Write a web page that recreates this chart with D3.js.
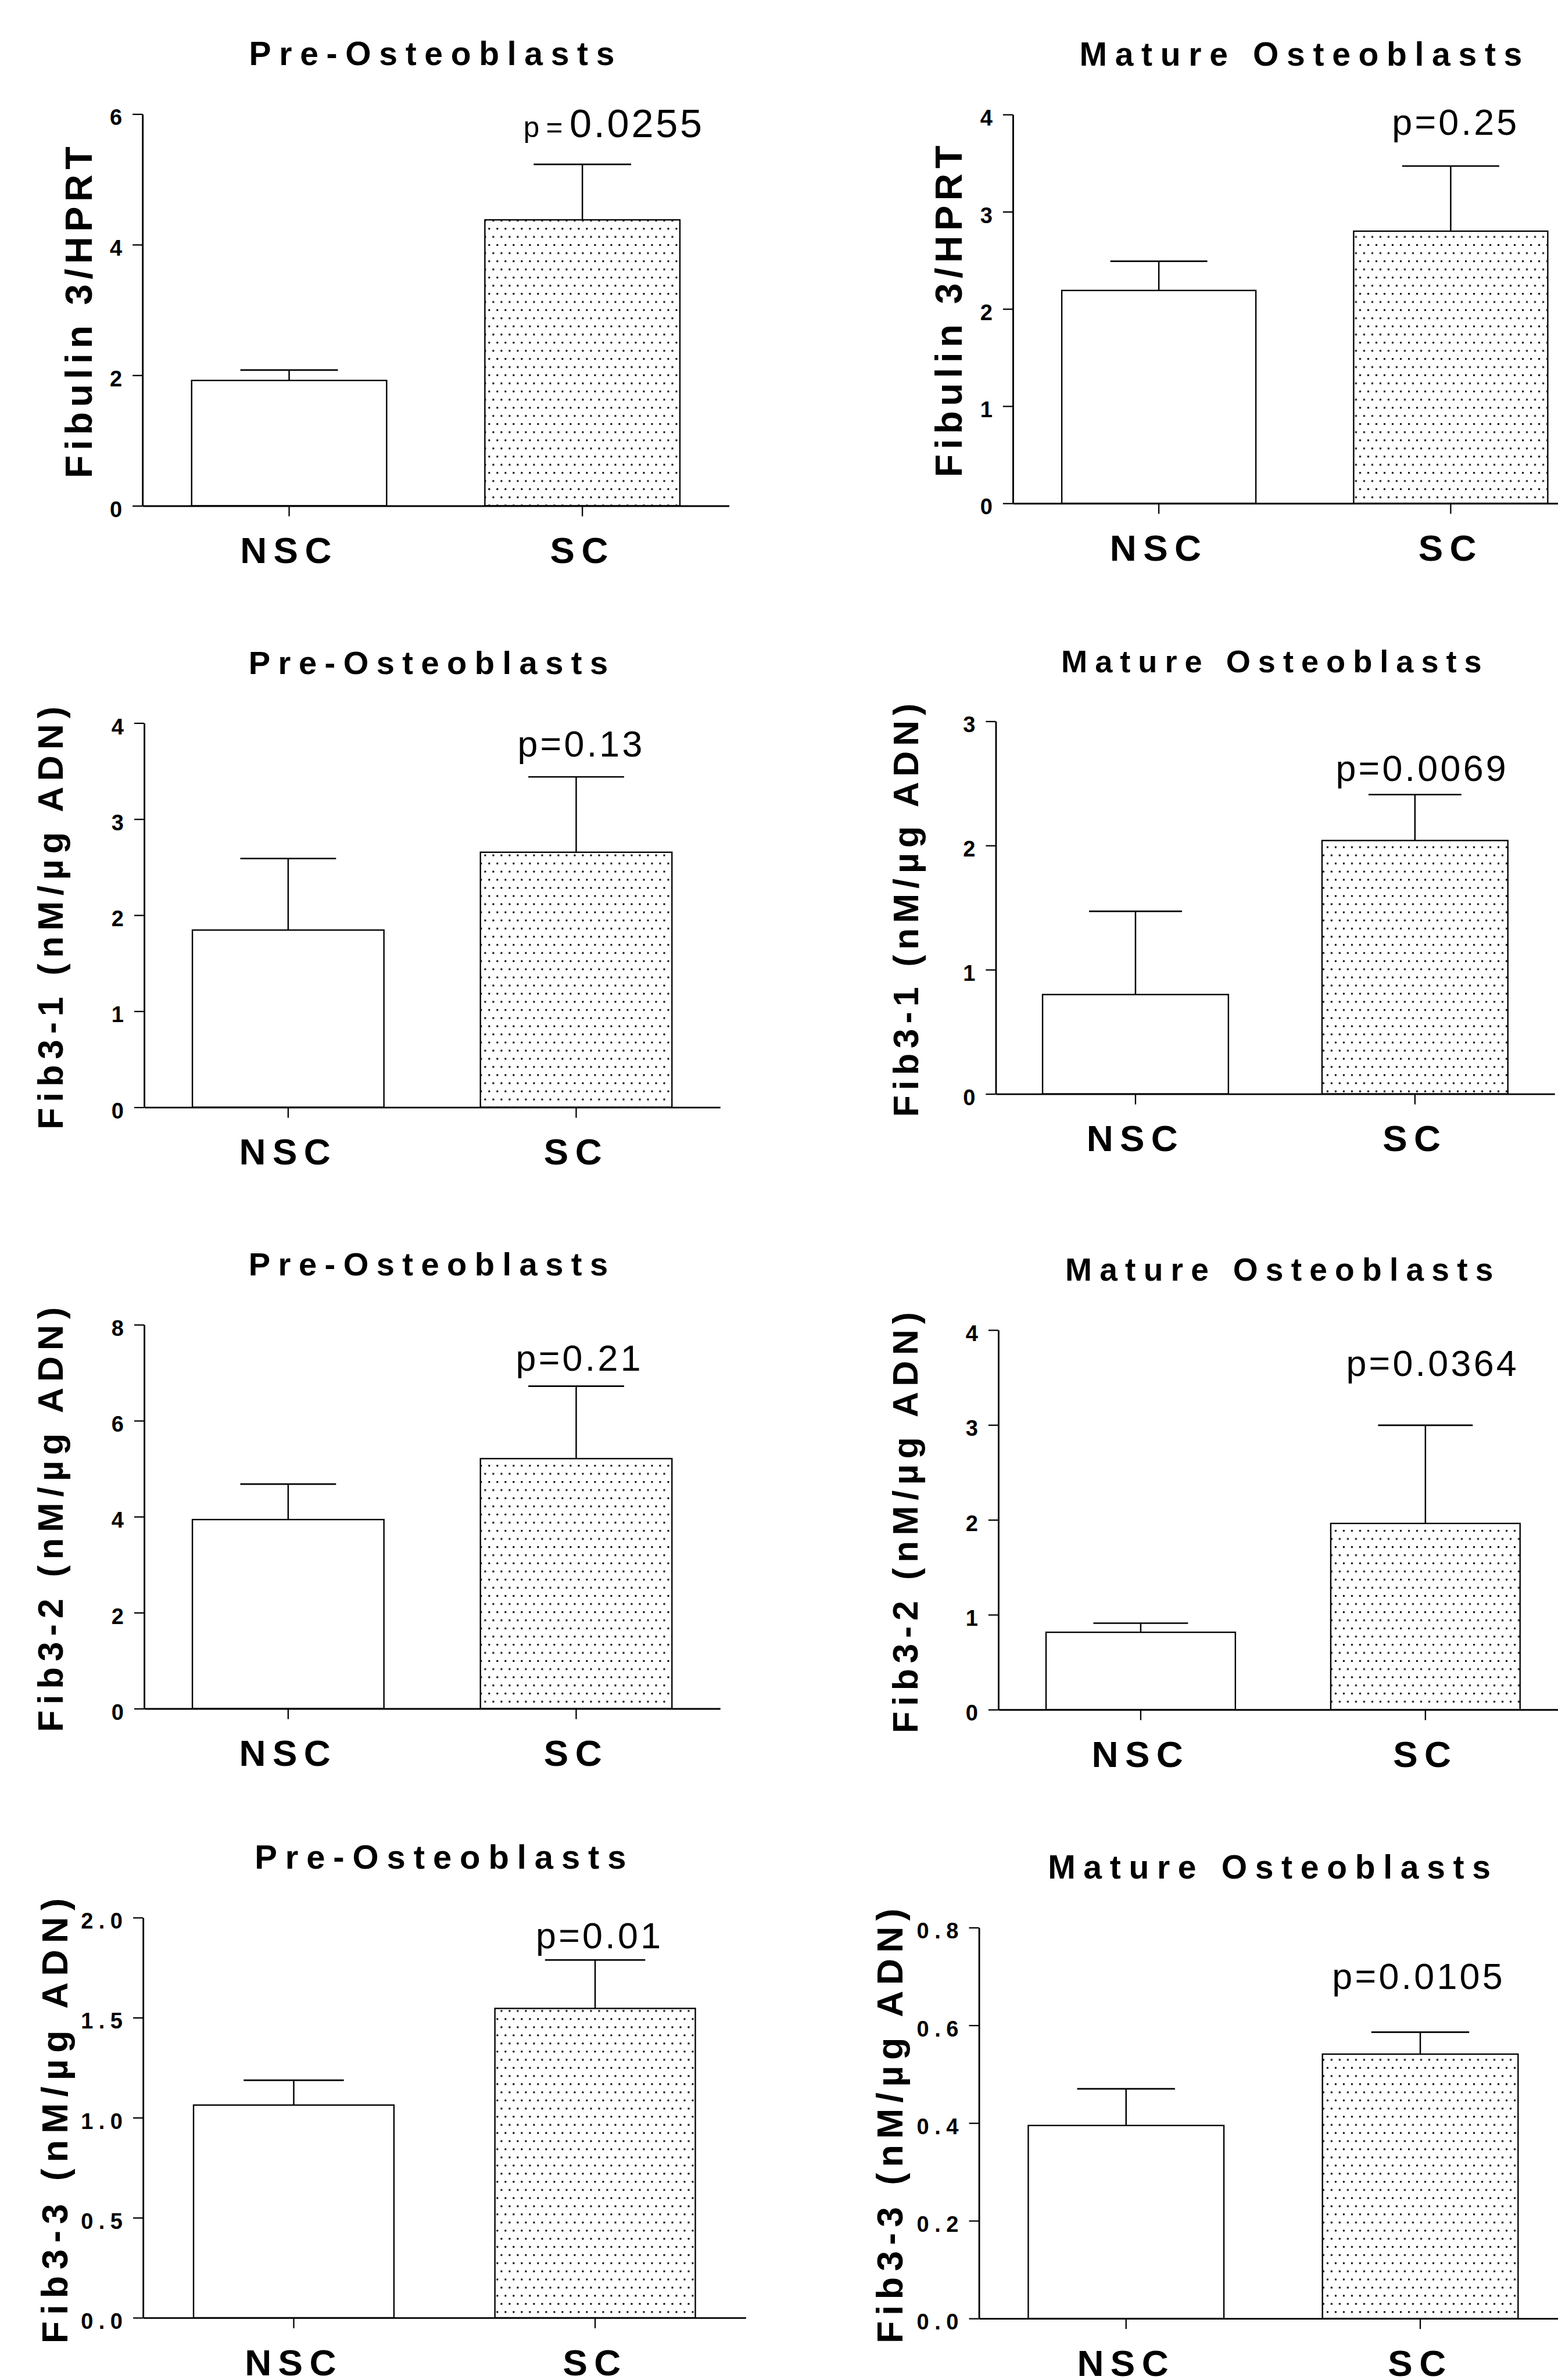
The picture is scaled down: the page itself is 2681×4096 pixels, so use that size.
<!DOCTYPE html>
<html>
<head>
<meta charset="utf-8">
<script src="https://cdn.jsdelivr.net/npm/d3@7"></script>
<style>
  body { margin: 0; background: white; }
  text { font-family: "Liberation Sans", Arial, Helvetica, sans-serif; fill: black; }
</style>
</head>
<body>
<script>

// data, one entry per panel (row by row, left then right)
var categories = ["NSC", "SC"];
var titles = ["Pre-Osteoblasts", "Mature Osteoblasts", "Pre-Osteoblasts", "Mature Osteoblasts",
              "Pre-Osteoblasts", "Mature Osteoblasts", "Pre-Osteoblasts", "Mature Osteoblasts"];
var yLabels = ["Fibulin 3/HPRT", "Fibulin 3/HPRT", "Fib3-1 (nM/µg ADN)", "Fib3-1 (nM/µg ADN)",
               "Fib3-2 (nM/µg ADN)", "Fib3-2 (nM/µg ADN)", "Fib3-3 (nM/µg ADN)", "Fib3-3 (nM/µg ADN)"];
var yMax = [6, 4, 4, 3, 8, 4, 2, 0.8];
var yTicks = [[0, 2, 4, 6], [0, 1, 2, 3, 4], [0, 1, 2, 3, 4], [0, 1, 2, 3],
              [0, 2, 4, 6, 8], [0, 1, 2, 3, 4], [0, 0.5, 1, 1.5, 2], [0, 0.2, 0.4, 0.6, 0.8]];
var nscMean = [1.92, 2.19, 1.845, 0.80, 3.94, 0.815, 1.063, 0.395];
var nscErr  = [0.16, 0.30, 0.745, 0.67, 0.74, 0.096, 0.124, 0.075];
var scMean  = [4.38, 2.80, 2.655, 2.04, 5.21, 1.962, 1.546, 0.541];
var scErr   = [0.85, 0.67, 0.785, 0.37, 1.51, 1.035, 0.242, 0.045];
var pValues = ["0.0255", "0.25", "0.13", "0.0069", "0.21", "0.0364", "0.01", "0.0105"];

// panel placement, in reference pixels
var layout = [
  {axisX: 258,    xEnd: 1320,   yTop: 206.6,  y0: 916,    titleSize: 60, labGap: 92,  labSize: 68, labSpace: 9,    pY: 248,    pDx: 57, pBig: true},
  {axisX: 1834,   xEnd: 2891,   yTop: 207.4,  y0: 911.5,  titleSize: 60, labGap: 93,  labSize: 68, labSpace: 9,    pY: 244.5,  pDx: 9},
  {axisX: 261,    xEnd: 1304,   yTop: 1309.4, y0: 2005.2, titleSize: 59, labGap: 147, labSize: 64, labSpace: 10.4, pY: 1370,   pDx: 9},
  {axisX: 1803,   xEnd: 2815,   yTop: 1306.2, y0: 1981,   titleSize: 57, labGap: 141, labSize: 64, labSpace: 9.4,  pY: 1414.7, pDx: 13},
  {axisX: 261,    xEnd: 1304,   yTop: 2399,   y0: 3094.2, titleSize: 59, labGap: 147, labSize: 64, labSpace: 10.6, pY: 2482,   pDx: 6},
  {axisX: 1807.7, xEnd: 2838.7, yTop: 2408.6, y0: 3096,   titleSize: 58, labGap: 146, labSize: 64, labSpace: 10.2, pY: 2491.5, pDx: 13},
  {axisX: 259,    xEnd: 1350.4, yTop: 3472.6, y0: 4197.3, titleSize: 61, labGap: 137, labSize: 66, labSpace: 11.7, pY: 3528.7, pDx: 8},
  {axisX: 1772.6, xEnd: 2838,   yTop: 3490.7, y0: 4198.6, titleSize: 60, labGap: 138, labSize: 66, labSpace: 10.6, pY: 3601.4, pDx: -3}
];

var svg = d3.select("body").append("svg")
  .attr("width", 2681)
  .attr("height", 4096)
  .attr("viewBox", "0 0 2821 4310");

svg.append("rect")
  .attr("width", 2821)
  .attr("height", 4310)
  .attr("fill", "white");

// dotted fill of the SC bars
var pat = svg.append("defs").append("pattern")
  .attr("id", "dots")
  .attr("patternUnits", "userSpaceOnUse")
  .attr("width", 14.737)
  .attr("height", 29.474);
pat.append("rect").attr("width", 14.737).attr("height", 29.474).attr("fill", "white");
pat.append("rect").attr("x", 0).attr("y", 0).attr("width", 3.158).attr("height", 3.158).attr("fill", "black");
pat.append("rect").attr("x", 7.368).attr("y", 14.737).attr("width", 3.158).attr("height", 3.158).attr("fill", "black");

function drawPanel(i) {
  var L = layout[i];
  var g = svg.append("g");

  var x = d3.scaleBand()
    .domain(categories)
    .range([L.axisX, L.xEnd])
    .paddingInner(0.335)
    .paddingOuter(0.1675);

  var y = d3.scaleLinear()
    .domain([0, yMax[i]])
    .range([L.y0, L.yTop]);

  var rows = [
    {cat: categories[0], mean: nscMean[i], err: nscErr[i]},
    {cat: categories[1], mean: scMean[i], err: scErr[i]}
  ];
  var bw = x.bandwidth();

  g.selectAll(".bar")
    .data(rows)
    .enter().append("rect")
    .attr("x", function(d) { return x(d.cat); })
    .attr("width", bw)
    .attr("y", function(d) { return y(d.mean); })
    .attr("height", function(d) { return y(0) - y(d.mean); })
    .attr("fill", function(d, j) { return j == 0 ? "white" : "url(#dots)"; })
    .attr("stroke", "black")
    .attr("stroke-width", 2.5);

  // error bars (upper only), cap is half the bar width
  var eb = g.selectAll(".err")
    .data(rows)
    .enter().append("g");
  eb.append("line")
    .attr("x1", function(d) { return x(d.cat) + bw / 2; })
    .attr("x2", function(d) { return x(d.cat) + bw / 2; })
    .attr("y1", function(d) { return y(d.mean); })
    .attr("y2", function(d) { return y(d.mean + d.err); })
    .attr("stroke", "black")
    .attr("stroke-width", 2.6);
  eb.append("line")
    .attr("x1", function(d) { return x(d.cat) + bw / 4; })
    .attr("x2", function(d) { return x(d.cat) + bw * 3 / 4; })
    .attr("y1", function(d) { return y(d.mean + d.err); })
    .attr("y2", function(d) { return y(d.mean + d.err); })
    .attr("stroke", "black")
    .attr("stroke-width", 2.8);

  // y axis
  var fmt = Number.isInteger(yTicks[i][1]) ? d3.format("d") : d3.format(".1f");
  var ya = g.append("g")
    .attr("transform", "translate(" + L.axisX + ",0)")
    .call(d3.axisLeft(y).tickValues(yTicks[i]).tickFormat(fmt).tickSize(18).tickSizeOuter(0).tickPadding(19));
  ya.select(".domain").attr("stroke-width", 3);
  ya.selectAll(".tick line").attr("stroke-width", 2.4);
  ya.selectAll(".tick text")
    .attr("x", -27)
    .attr("dy", "0.49em")
    .attr("font-size", 40)
    .attr("font-weight", "bold")
    .style("letter-spacing", "10px");

  // x axis
  var xa = g.append("g")
    .attr("transform", "translate(0," + L.y0 + ")")
    .call(d3.axisBottom(x).tickSize(19).tickSizeOuter(0));
  xa.select(".domain").attr("stroke-width", 3);
  xa.selectAll(".tick line").attr("stroke-width", 2.4);
  xa.selectAll(".tick text")
    .attr("y", 104)
    .attr("dy", null)
    .attr("font-size", 67)
    .attr("font-weight", "bold")
    .style("letter-spacing", "12px");
  ya.attr("font-family", null);
  xa.attr("font-family", null);

  // title
  g.append("text")
    .text(titles[i])
    .attr("x", (L.axisX + L.xEnd) / 2)
    .attr("y", L.yTop - 89)
    .attr("text-anchor", "middle")
    .attr("font-size", L.titleSize)
    .attr("font-weight", "bold")
    .style("letter-spacing", (L.titleSize * 0.24) + "px");

  // y label
  g.append("text")
    .text(yLabels[i])
    .attr("text-anchor", "middle")
    .attr("transform", "translate(" + (L.axisX - L.labGap) + "," + ((L.yTop + L.y0) / 2) + ") rotate(-90)")
    .attr("font-size", L.labSize)
    .attr("font-weight", "bold")
    .style("letter-spacing", L.labSpace + "px");

  // p value over the SC bar
  var pt = g.append("text")
    .attr("x", x(categories[1]) + bw / 2 + L.pDx)
    .attr("y", L.pY)
    .attr("text-anchor", "middle");
  if (L.pBig) {
    pt.append("tspan").text("p=").attr("font-size", 52).style("letter-spacing", "12px");
    pt.append("tspan").text(pValues[i]).attr("font-size", 72).style("letter-spacing", "4px");
  } else {
    pt.text("p=" + pValues[i])
      .attr("font-size", 66)
      .style("letter-spacing", "4.5px");
  }
}

for (var i = 0; i < titles.length; i++) {
  drawPanel(i);
}

</script>
</body>
</html>
